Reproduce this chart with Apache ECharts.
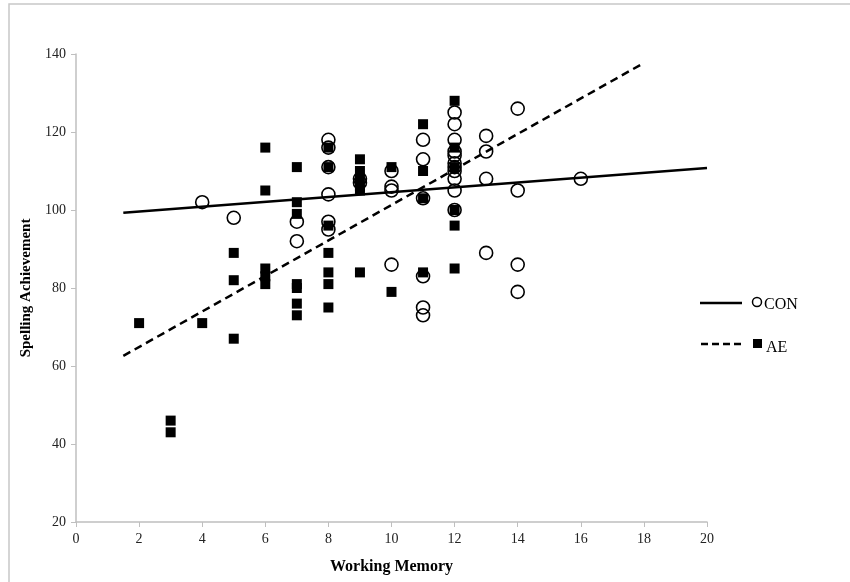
<!DOCTYPE html>
<html>
<head>
<meta charset="utf-8">
<script src="https://cdn.jsdelivr.net/npm/echarts@6/dist/echarts.min.js"></script>
<style>
  html, body { margin: 0; padding: 0; background: #fff; }
  #chart { width: 850px; height: 582px; }
</style>
</head>
<body>
<div id="chart"></div>
<script>
// Spelling achievement vs working memory — CON (open circles) vs AE (filled squares)
//   values; trend lines as two end points each

const conPoints = [
  [4, 102], [5, 98],
  [7, 97], [7, 92],
  [8, 118], [8, 116], [8, 111], [8, 104], [8, 97], [8, 95],
  [9, 108], [9, 107],
  [10, 110], [10, 106], [10, 105], [10, 86],
  [11, 118], [11, 113], [11, 103], [11, 83], [11, 75], [11, 73],
  [12, 125], [12, 122], [12, 118], [12, 115], [12, 114], [12, 112], [12, 111],
  [12, 110], [12, 108], [12, 105], [12, 100],
  [13, 119], [13, 115], [13, 108], [13, 89],
  [14, 126], [14, 105], [14, 86], [14, 79],
  [16, 108],
];

const aePoints = [
  [2, 71],
  [3, 46], [3, 43],
  [4, 71],
  [5, 89], [5, 82], [5, 67],
  [6, 116], [6, 105], [6, 85], [6, 83], [6, 81],
  [7, 111], [7, 102], [7, 99], [7, 81], [7, 80], [7, 76], [7, 73],
  [8, 116], [8, 111], [8, 96], [8, 89], [8, 84], [8, 81], [8, 75],
  [9, 113], [9, 110], [9, 108], [9, 106], [9, 105], [9, 84],
  [10, 111], [10, 79],
  [11, 122], [11, 110], [11, 103], [11, 84],
  [12, 128], [12, 116], [12, 111], [12, 100], [12, 96], [12, 85],
];

const conTrend = [[1.5, 99.3], [20, 110.8]];
const aeTrend  = [[1.5, 62.6], [18, 137.7]];

const legendNames = ['CON', 'AE'];

// ── chart ─────────────────────────────────────────────────────────────
const chart = echarts.init(document.getElementById('chart'));

const font    = '"Liberation Serif", "DejaVu Serif", serif';
const axisClr = '#bfbfbf';
const ink     = '#000';

chart.setOption({
  backgroundColor: '#fff', animation: false,
  textStyle: { fontFamily: font },
  grid: { left: 76, right: 143, top: 54, bottom: 60 },
  xAxis: {
    type: 'value', min: 0, max: 20, interval: 2,
    name: 'Working Memory', nameLocation: 'middle', nameGap: 37,
    nameTextStyle: { color: ink, fontSize: 16, fontWeight: 'bold', fontFamily: font },
    axisLine: { lineStyle: { color: axisClr, width: 1.5 } },
    axisTick: { show: true, length: 5, lineStyle: { color: axisClr } },
    axisLabel: { color: '#222', fontSize: 14, margin: 10, fontFamily: font },
    splitLine: { show: false },
  },
  yAxis: {
    type: 'value', min: 20, max: 140, interval: 20,
    name: 'Spelling Achievement', nameLocation: 'middle', nameGap: 38,
    nameTextStyle: { color: ink, fontSize: 15, fontWeight: 'bold', fontFamily: font },
    axisLine: { show: true, lineStyle: { color: axisClr, width: 1.5 } },
    axisTick: { show: true, length: 5, lineStyle: { color: axisClr } },
    axisLabel: { color: '#222', fontSize: 14, margin: 10, fontFamily: font },
    splitLine: { show: false },
  },
  series: [
    {
      name: 'CON trend', type: 'line', data: conTrend,
      symbol: 'none', silent: true, z: 2,
      lineStyle: { color: ink, width: 2.5 },
    },
    {
      name: 'AE trend', type: 'line', data: aeTrend,
      symbol: 'none', silent: true, z: 2,
      lineStyle: { color: ink, width: 2.5, type: [8, 5] },
    },
    {
      name: legendNames[0], type: 'scatter', data: conPoints,
      symbol: 'circle', symbolSize: 13, z: 3,
      itemStyle: { color: 'rgba(255,255,255,0)', borderColor: ink, borderWidth: 1.6, opacity: 1 },
    },
    {
      name: legendNames[1], type: 'scatter', data: aePoints,
      symbol: 'rect', symbolSize: 10, z: 4,
      itemStyle: { color: ink, opacity: 1 },
    },
  ],
  graphic: [
    // outer frame
    { type: 'rect', silent: true, z: -1,
      shape: { x: 9, y: 4, width: 900, height: 620 },
      style: { fill: 'none', stroke: '#c8c8c8', lineWidth: 1.5 } },
    // legend
    { type: 'line', shape: { x1: 700, y1: 303, x2: 742, y2: 303 },
      style: { stroke: ink, lineWidth: 2.5 } },
    { type: 'circle', shape: { cx: 757, cy: 302, r: 4.5 },
      style: { fill: '#fff', stroke: ink, lineWidth: 1.5 } },
    { type: 'text', left: 764, top: 297,
      style: { text: legendNames[0], fill: ink, font: '16px ' + font } },
    { type: 'line', shape: { x1: 701, y1: 344, x2: 745, y2: 344 },
      style: { stroke: ink, lineWidth: 2.5, lineDash: [7, 4] } },
    { type: 'rect', shape: { x: 753, y: 339, width: 9, height: 9 },
      style: { fill: ink } },
    { type: 'text', left: 766, top: 340,
      style: { text: legendNames[1], fill: ink, font: '16px ' + font } },
  ],
});
</script>
</body>
</html>
